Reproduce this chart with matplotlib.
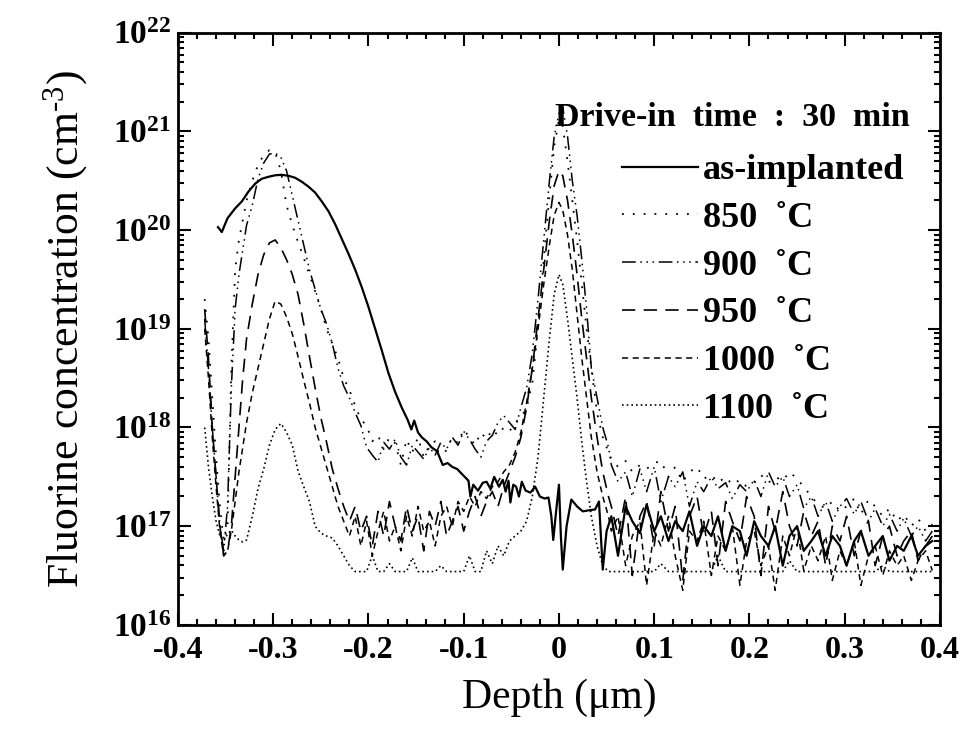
import numpy as np
import matplotlib
matplotlib.use("Agg")
import matplotlib.pyplot as plt
from matplotlib.ticker import MultipleLocator, LogLocator, NullFormatter

plt.rcParams['font.family'] = ['Liberation Serif', 'DejaVu Serif']
plt.rcParams['mathtext.fontset'] = 'custom'
plt.rcParams['mathtext.rm'] = 'Liberation Serif'
plt.rcParams['mathtext.bf'] = 'Liberation Serif:bold'
plt.rcParams['mathtext.it'] = 'Liberation Serif:italic'

# depth sampling (um), shared by the annealed profiles
LEFT_DEPTH = [-0.372, -0.368, -0.364, -0.360, -0.356, -0.352, -0.348, -0.344, -0.340, -0.336,
              -0.332, -0.328, -0.322, -0.316, -0.310, -0.304, -0.298, -0.292, -0.286, -0.280,
              -0.274, -0.268, -0.262, -0.256, -0.250, -0.244, -0.238, -0.232, -0.226]
VALLEY_DEPTH = [-0.220, -0.214, -0.208, -0.202, -0.196, -0.190, -0.184, -0.178, -0.172, -0.166,
                -0.160, -0.154, -0.148, -0.142, -0.136, -0.130, -0.124, -0.118, -0.112, -0.106,
                -0.100, -0.094, -0.088, -0.082, -0.076, -0.070, -0.064, -0.058, -0.052, -0.046]
ZERO_DEPTH = [-0.040, -0.034, -0.028, -0.022, -0.016, -0.010, -0.005, 0.000, 0.004, 0.009,
              0.014, 0.019, 0.024, 0.029, 0.034, 0.040, 0.046, 0.052]
TAIL_DEPTH = [0.055, 0.062, 0.070, 0.077, 0.085, 0.092, 0.100, 0.107, 0.115, 0.122,
              0.130, 0.137, 0.145, 0.152, 0.160, 0.167, 0.175, 0.182, 0.190, 0.197,
              0.205, 0.212, 0.220, 0.227, 0.235, 0.242, 0.250, 0.257, 0.265, 0.272,
              0.280, 0.287, 0.295, 0.302, 0.310, 0.317, 0.325, 0.332, 0.340, 0.347,
              0.355, 0.362, 0.370, 0.377, 0.385, 0.392]
ANNEAL_DEPTH = LEFT_DEPTH + VALLEY_DEPTH + ZERO_DEPTH + TAIL_DEPTH

# as-implanted profile has its own sampling up to 0.05 um
ASIMP_DEPTH = [-0.358, -0.354, -0.348, -0.340, -0.333, -0.326, -0.319, -0.312, -0.305, -0.298,
               -0.291, -0.284, -0.277, -0.270, -0.263, -0.256, -0.249, -0.242, -0.235, -0.228,
               -0.221, -0.214, -0.207, -0.200, -0.193, -0.186, -0.179, -0.172, -0.165, -0.159,
               -0.155, -0.152, -0.148, -0.144, -0.139, -0.134, -0.128, -0.122, -0.117, -0.112,
               -0.107, -0.103, -0.099, -0.095, -0.093, -0.090, -0.085, -0.080, -0.076, -0.072,
               -0.068, -0.063, -0.059, -0.056, -0.053, -0.051, -0.048, -0.045, -0.042, -0.039,
               -0.035, -0.030, -0.025, -0.020, -0.015, -0.011, -0.008, -0.006, -0.003, 0.000,
               0.002, 0.004, 0.008, 0.013, 0.019, 0.025, 0.031, 0.038, 0.042, 0.046,
               0.050] + TAIL_DEPTH

# log10 of fluorine concentration (cm^-3)
LOG_ASIMP = [20.03, 19.98, 20.12, 20.22, 20.29, 20.39, 20.47, 20.52, 20.54, 20.555,
             20.56, 20.55, 20.53, 20.49, 20.44, 20.38, 20.29, 20.19, 20.06, 19.91,
             19.76, 19.6, 19.42, 19.22, 19.0, 18.78, 18.55, 18.36, 18.2, 18.08,
             17.98, 18.07, 17.95, 17.9, 17.86, 17.8, 17.76, 17.62, 17.64, 17.6,
             17.58, 17.54, 17.5, 17.46, 17.3, 17.42, 17.36, 17.44, 17.45, 17.38,
             17.5, 17.4, 17.47, 17.35, 17.46, 17.24, 17.42, 17.4, 17.3, 17.45,
             17.36, 17.34, 17.4, 17.3, 17.28, 17.29, 17.1, 16.86, 17.15, 17.42,
             16.9, 16.56, 17.0, 17.27, 17.2, 17.15, 17.16, 17.17, 17.25, 16.56,
             16.95,
             17.1, 16.7, 17.2, 17.05, 16.93, 17.22, 16.95, 17.1, 16.85, 17.05,
             16.95, 17.15, 16.8, 17.0, 16.9, 17.1, 16.75, 17.0, 16.95, 16.7,
             17.05, 16.9, 16.8, 17.0, 16.6, 16.9, 17.0, 16.75, 16.85, 16.95,
             16.7, 16.9, 16.8, 16.6, 16.85, 16.95, 16.7, 16.8, 16.9, 16.65,
             16.8, 16.75, 16.9, 16.7, 16.8, 16.85]

LOG_850 = [19.3, 18.9, 18.3, 17.7, 17.2, 16.85, 17.0, 18.6, 19.6, 19.9,
           20.1, 20.3, 20.5, 20.66, 20.76, 20.81, 20.79, 20.6, 20.25, 20.05,
           19.88, 19.72, 19.55, 19.38, 19.2, 19.0, 18.85, 18.7, 18.5,
           18.38, 18.22, 18.08, 18.02, 17.86, 17.92, 17.78, 17.9, 17.84, 17.62,
           17.88, 17.75, 17.9, 17.7, 17.82, 17.86, 17.66, 17.78, 17.9, 17.84,
           17.98, 17.9, 17.82, 17.95, 17.88, 17.98, 17.92, 18.0, 17.96, 18.05,
           18.1, 18.2, 18.45, 19.0, 19.7, 20.35, 20.85, 21.12, 21.05, 20.7,
           20.3, 19.9, 19.45, 19.0, 18.6, 18.15, 17.9, 17.75,
           17.68, 17.6, 17.66, 17.55, 17.62, 17.58, 17.64, 17.66, 17.5, 17.6,
           17.45, 17.55, 17.6, 17.48, 17.52, 17.44, 17.5, 17.42, 17.47, 17.4,
           17.45, 17.52, 17.44, 17.5, 17.46, 17.55, 17.48, 17.4, 17.3, 17.22,
           17.18, 17.25, 17.15, 17.2, 17.28, 17.12, 17.27, 17.2, 17.1, 17.18,
           17.05, 17.12, 17.0, 17.08, 16.95, 17.02]

LOG_900 = [19.1, 18.6, 18.0, 17.5, 17.0, 16.75, 17.2, 18.4, 19.2, 19.55,
           19.8, 20.05, 20.25, 20.52, 20.68, 20.77, 20.78, 20.74, 20.6, 20.35,
           20.1, 19.85, 19.6, 19.4, 19.2, 19.05, 18.85, 18.6, 18.42,
           18.3, 18.15, 18.02, 17.8, 17.72, 17.65, 17.85, 17.78, 17.88, 17.7,
           17.62, 17.82, 17.75, 17.68, 17.8, 17.72, 17.85, 17.78, 17.9, 17.82,
           17.96, 17.88, 17.78, 17.7, 17.86, 17.92, 18.05, 18.12, 18.05, 17.98,
           18.2, 18.4, 18.75, 19.3, 19.9, 20.5, 20.95, 21.18, 21.24, 20.95,
           20.5, 20.15, 19.7, 19.2, 18.6, 18.3, 18.0, 17.8,
           17.62, 17.45, 17.55, 17.3, 17.58, 17.35, 17.6, 17.25, 17.5, 17.4,
           17.55, 17.2, 17.45, 17.35, 17.5, 17.38, 17.44, 17.28, 17.42, 17.35,
           17.47, 17.3, 17.55, 17.4, 17.5, 17.3, 17.42, 17.18, 17.3, 17.1,
           17.25, 17.05, 17.2, 17.28, 17.12, 17.25, 17.05, 17.18, 17.0, 17.12,
           16.95, 17.08, 16.9, 17.0, 16.85, 16.95]

LOG_950 = [19.2, 18.7, 18.0, 17.5, 17.0, 16.7, 16.75, 17.0, 17.5, 18.0,
           18.5, 18.9, 19.25, 19.55, 19.75, 19.87, 19.9, 19.82, 19.7, 19.55,
           19.35, 19.05, 18.72, 18.4, 18.1, 17.85, 17.58, 17.38, 17.2,
           17.05, 17.2, 16.95, 17.1, 16.8, 17.15, 16.9, 17.25, 17.0, 16.85,
           17.2, 16.95, 17.1, 16.75, 17.15, 17.0, 17.25, 16.9, 17.05, 17.2,
           16.95, 17.15, 17.3, 17.1, 17.25, 17.35, 17.2, 17.4, 17.55, 17.7,
           17.9, 18.2, 18.6, 19.1, 19.6, 20.1, 20.45, 20.6, 20.55, 20.3,
           19.95, 19.55, 19.1, 18.7, 18.3, 17.9, 17.55, 17.3,
           17.2, 16.9, 17.3, 16.5, 17.1, 17.25, 16.8, 17.35, 16.95, 17.2,
           16.45, 17.1, 17.3, 16.9, 17.15, 16.6, 17.25, 17.05, 16.85, 17.3,
           17.1, 16.5, 17.2, 16.95, 17.35, 17.0, 16.8, 17.15, 16.9, 17.05,
           16.6, 17.0, 16.85, 17.1, 16.7, 16.95, 17.05, 16.6, 16.9, 17.0,
           16.7, 16.85, 16.95, 16.65, 16.8, 16.9]

LOG_1000 = [19.0, 18.5, 17.9, 17.4, 16.95, 16.7, 16.75, 16.95, 17.25, 17.55,
            17.8, 18.05, 18.35, 18.6, 18.85, 19.1, 19.28, 19.25, 19.12, 18.95,
            18.72, 18.48, 18.25, 18.0, 17.8, 17.6, 17.4, 17.2, 17.05,
            16.9, 17.1, 16.8, 17.05, 16.7, 16.95, 17.15, 16.85, 17.0, 16.75,
            17.1, 16.9, 17.2, 16.95, 17.05, 16.8, 17.1, 17.2, 17.0, 17.25,
            17.15, 17.3, 17.2, 17.35, 17.28, 17.4, 17.45, 17.55, 17.62, 17.75,
            17.95, 18.25, 18.6, 19.0, 19.45, 19.85, 20.15, 20.28, 20.2, 19.95,
            19.6, 19.15, 18.7, 18.3, 17.9, 17.55, 17.3, 17.1,
            16.95, 17.1, 16.6, 16.9, 17.05, 16.4, 16.95, 16.8, 17.1, 16.7,
            16.35, 16.95, 16.85, 17.05, 16.5, 16.9, 16.75, 17.0, 16.4, 16.85,
            16.95, 16.6, 16.8, 16.35, 16.9, 16.7, 17.0, 16.55, 16.8, 16.65,
            16.9, 16.45, 16.75, 16.6, 16.85, 16.4, 16.7, 16.8, 16.5, 16.75,
            16.6, 16.7, 16.45, 16.65, 16.75, 16.55]

LOG_1100 = [18.0, 17.6, 17.3, 17.05, 16.9, 16.85, 16.92, 16.96, 16.9, 16.86,
            16.84, 16.86, 17.1, 17.38, 17.58, 17.82, 17.98, 18.04, 17.95, 17.82,
            17.56, 17.4, 17.25, 17.0, 16.93, 16.9, 16.88, 16.8, 16.7,
            16.6, 16.54, 16.54, 16.54, 16.7, 16.54, 16.54, 16.62, 16.54, 16.54,
            16.54, 16.68, 16.54, 16.54, 16.54, 16.54, 16.6, 16.54, 16.54, 16.54,
            16.54, 16.7, 16.54, 16.54, 16.75, 16.62, 16.8, 16.7, 16.85, 16.9,
            16.95, 17.05, 17.3, 17.7, 18.3, 18.9, 19.35, 19.55, 19.45, 19.1,
            18.7, 18.3, 17.85, 17.45, 17.1, 16.8, 16.6, 16.54,
            16.54, 16.54, 16.54, 16.54, 16.54, 16.54, 16.54, 16.62, 16.54, 16.54,
            16.54, 16.54, 16.54, 16.54, 16.54, 16.7, 16.54, 16.54, 16.54, 16.54,
            16.54, 16.54, 16.54, 16.54, 16.54, 16.65, 16.54, 16.54, 16.54, 16.54,
            16.54, 16.54, 16.54, 16.54, 16.54, 16.54, 16.54, 16.54, 16.6, 16.54,
            16.54, 16.54, 16.54, 16.54, 16.54, 16.54]

LABELS = ["as-implanted", "850  \u02daC", "900  \u02daC", "950  \u02daC", "1000  \u02daC", "1100  \u02daC"]

series = [
    (ASIMP_DEPTH, LOG_ASIMP, "-", 1.6),
    (ANNEAL_DEPTH, LOG_850, (0, (1, 5)), 1.3),
    (ANNEAL_DEPTH, LOG_900, (0, (9, 3, 1, 3, 1, 3, 1, 3)), 1.1),
    (ANNEAL_DEPTH, LOG_950, (0, (8, 5)), 1.2),
    (ANNEAL_DEPTH, LOG_1000, (0, (4, 3)), 1.1),
    (ANNEAL_DEPTH, LOG_1100, (0, (1, 1.8)), 1.2),
]

fig = plt.figure(figsize=(9.7, 7.43), dpi=100)
ax = fig.add_axes([0.1835, 0.159, 0.7855, 0.797])

for (d, lg, ls, lw), lab in zip(series, LABELS):
    ax.plot(d, 10 ** np.array(lg), color="black", linestyle=ls, linewidth=lw, label=lab)

ax.set_yscale("log")
ax.set_xlim(-0.4, 0.4)
ax.set_ylim(1e16, 1e22)

ax.set_xticks([-0.4, -0.3, -0.2, -0.1, 0, 0.1, 0.2, 0.3, 0.4])
ax.set_xticklabels(["-0.4", "-0.3", "-0.2", "-0.1", "0", "0.1", "0.2", "0.3", "0.4"],
                   fontsize=23, fontweight="bold")
ax.xaxis.set_minor_locator(MultipleLocator(0.02))

decades = [1e16, 1e17, 1e18, 1e19, 1e20, 1e21, 1e22]
ax.set_yticks(decades)
ax.set_yticklabels([r"$\mathbf{10^{%d}}$" % e for e in range(16, 23)], fontsize=24)
ax.yaxis.set_minor_locator(LogLocator(base=10, subs=np.arange(2, 10), numticks=20))
ax.yaxis.set_minor_formatter(NullFormatter())

ax.tick_params(which="both", direction="in", top=True, right=True, width=1.5)
ax.tick_params(which="major", length=9)
ax.tick_params(which="minor", length=4.5)
ax.tick_params(axis="x", which="major", pad=8)
ax.tick_params(axis="y", which="major", pad=5)
for sp in ax.spines.values():
    sp.set_linewidth(2)

ax.set_xlabel("Depth (\u03bcm)", fontsize=30, labelpad=10)
ax.set_ylabel(r"Fluorine concentration (cm$^{\mathrm{\text{-}3}}$)", fontsize=31.5, labelpad=16)

ax.text(0.961, 0.857, "Drive-in  time  :  30  min", transform=ax.transAxes,
        ha="right", va="center", fontsize=24.5, fontweight="bold")
leg = ax.legend(loc="upper right", bbox_to_anchor=(0.996, 0.85), frameon=False,
                prop={"size": 26, "weight": "bold"},
                handlelength=2.1, handletextpad=0.15, labelspacing=0.4)

fig.savefig("out.png", dpi=100)
